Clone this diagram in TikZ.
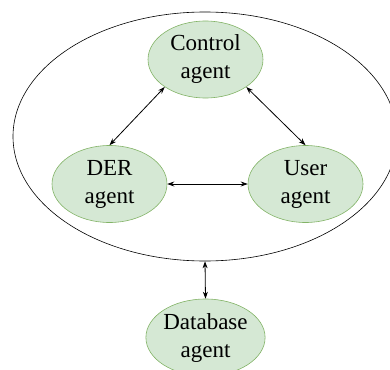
\documentclass[tikz,border=0pt]{standalone}
\usepackage{fontspec}
\setmainfont{Liberation Serif}
\usepackage{tikz}
\usetikzlibrary{shapes.geometric, arrows.meta}

\definecolor{agentfill}{HTML}{D5E8D4}
\definecolor{agentline}{HTML}{82B366}

\begin{document}
\begin{tikzpicture}[x=1pt, y=-1pt, agent/.style={draw=agentline, fill=agentfill, ellipse, inner sep=0pt, minimum width=115pt, minimum height=77pt, align=center, font=\fontsize{23}{28}\selectfont, line width=0.6pt}, group/.style={draw, ellipse, inner sep=0pt, minimum width=384pt, minimum height=249pt, line width=0.6pt}, n/.style={{Stealth[length=7pt, width=5pt]}-{Stealth[length=7pt, width=5pt]}, line width=0.8pt}]
            \useasboundingbox (0,0) rectangle (390,369);
            % nodes
            \node[group] (mas) at (205,136.5) {};
            \node[agent] (ctrl) at (205.5,59.5) {Control\\agent};
            \node[agent] (der) at (109.5,184) {DER\\agent};
            \node[agent] (user) at (305.5,184) {User\\agent};
            \node[agent] (db) at (205.5,337.5) {Database\\agent};
            % edges
            \draw [n] (ctrl.214) -- (der.north);
            \draw [n] (ctrl.326) -- (user.north);
            \draw [n] (der.east) -- (user.west);
            \draw [n] (mas.south) -- (db.north);
        \end{tikzpicture}
\end{document}
